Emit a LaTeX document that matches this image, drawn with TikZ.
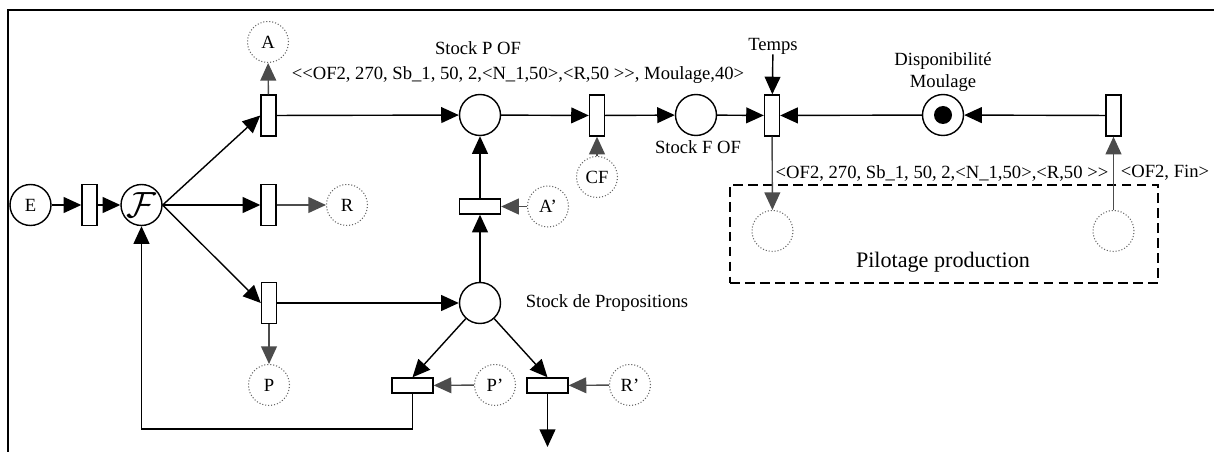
\documentclass[tikz,border=0pt]{standalone}
\usepackage{fontspec}
\setmainfont{Liberation Serif}
\usetikzlibrary{arrows.meta}
\newcommand\dlt{<\kern0pt<}
\newcommand\dgt{>\kern0pt>}
\begin{document}
\begin{tikzpicture}[x=0.02cm,y=-0.02cm,
  every node/.style={font=\fontsize{10.6}{12.5}\selectfont},
  place/.style={circle,draw,line width=0.8pt,minimum size=0.82cm,inner sep=0pt},
  vplace/.style={circle,draw=black!60,dash pattern=on 0.6pt off 1.1pt,line width=0.6pt,minimum size=0.82cm,inner sep=0pt},
  vtrans/.style={rectangle,draw,line width=0.8pt,minimum width=0.3cm,minimum height=0.82cm,inner sep=0pt},
  htrans/.style={rectangle,draw,line width=0.8pt,minimum width=0.82cm,minimum height=0.3cm,inner sep=0pt},
  arr/.style={-{Triangle[length=10pt,width=9pt]},line width=0.8pt},
  garr/.style={arr,draw=black!70},
  lbl/.style={inner sep=0pt},
  dashbox/.style={draw,line width=1pt,dash pattern=on 5.5pt off 3pt,inner sep=0pt}
]
\useasboundingbox (0,0) rectangle (1214,452);
\draw[line width=0.8pt] (8,452) -- (8,10) -- (1214,10);

% places and transitions
\node[place] (E) at (30.5,205) {E};
\node[vtrans] (T0) at (89.5,205) {};
\node[place,font=\fontsize{22}{22}\selectfont] (F) at (141.5,205) {$\mathcal{F}$};
\node[vtrans] (TA) at (268.5,115.5) {};
\node[vplace] (A) at (268,42) {A};
\node[vtrans] (TR) at (268.5,205) {};
\node[vplace] (R) at (347,205) {R};
\node[vtrans] (TP) at (269,303) {};
\node[vplace] (P) at (269,385) {P};
\node[place] (SPOF) at (480,115) {};
\node[vtrans] (TCF) at (597,115.5) {};
\node[vplace] (CF) at (597,177) {CF};
\node[place] (SFOF) at (696,115) {};
\node[htrans] (TAp) at (480,206.5) {};
\node[vplace] (Ap) at (548,206.5) {A'};
\node[place] (SdP) at (480,303) {};
\node[htrans] (TPp) at (412.5,385.5) {};
\node[vplace] (Pp) at (495,385) {P'};
\node[htrans] (TRp) at (547.5,385.5) {};
\node[vplace] (Rp) at (630,385) {R'};
\coordinate (out) at (547.5,447);
\coordinate (fb) at (141.5,429);
\node[vtrans] (TT) at (772,115.5) {};
\node[lbl] (temps) at (773,46) {Temps};
\node[place] (D) at (943,115) {};
\node[circle,fill,minimum size=0.36cm,inner sep=0pt] (tok) at (D) {};
\node[vtrans] (TF) at (1113.5,115.5) {};
\node[vplace] (X1) at (772.5,231) {};
\node[vplace] (X2) at (1113.5,231) {};
\node[dashbox,minimum width=8.56cm,minimum height=1.96cm] (pilot) at (944,234) {};

% labels
\node[lbl] (lspof) at (478,48) {Stock P OF};
\node[lbl] (lmark) at (518,75) {\dlt OF2, 270, Sb\_1, 50, 2,<N\_1,50>,<R,50 \dgt, Moulage,40>};
\node[lbl] (lsfof) at (698,147) {Stock F OF};
\node[lbl] (lsdp) at (607,303) {Stock de Propositions};
\node[lbl,align=center] (ldisp) at (943,72) {Disponibilité\\Moulage};
\node[lbl] (lout) at (942,173) {<OF2, 270, Sb\_1, 50, 2,<N\_1,50>,<R,50 \dgt};
\node[lbl] (lfin) at (1165,173) {<OF2, Fin>};
\node[lbl,font=\fontsize{12.6}{14}\selectfont] (lpil) at (943,262) {Pilotage production};

% black arcs
\draw[arr] (E) -- (T0);
\draw[arr] (T0) -- (F);
\draw[arr] (F.east) -- (TA.west);
\draw[arr] (F.east) -- (TR.west);
\draw[arr] (F.east) -- (TP.west);
\draw[arr] (TA) -- (SPOF);
\draw[arr] (SPOF) -- (TCF);
\draw[arr] (TCF) -- (SFOF);
\draw[arr] (SFOF) -- (TT);
\draw[arr] (TP) -- (SdP);
\draw[arr] (SdP) -- (TAp);
\draw[arr] (TAp) -- (SPOF);
\draw[arr] (SdP) -- (TPp.north);
\draw[arr] (SdP) -- (TRp.north);
\draw[arr] (TRp) -- (out);
\draw[arr] (TPp.south) |- (fb) -- (F.south);
\draw[arr] (temps) -- (TT);
\draw[arr] (D) -- (TT);
\draw[arr] (TF) -- (D);

% gray arcs
\draw[garr] (TA) -- (A);
\draw[garr] (TR) -- (R);
\draw[garr] (TP) -- (P);
\draw[garr] (CF) -- (TCF);
\draw[garr] (Ap) -- (TAp);
\draw[garr] (Pp) -- (TPp);
\draw[garr] (Rp) -- (TRp);
\draw[garr] (TT) -- (X1);
\draw[garr] (X2) -- (TF);
\end{tikzpicture}
\end{document}
